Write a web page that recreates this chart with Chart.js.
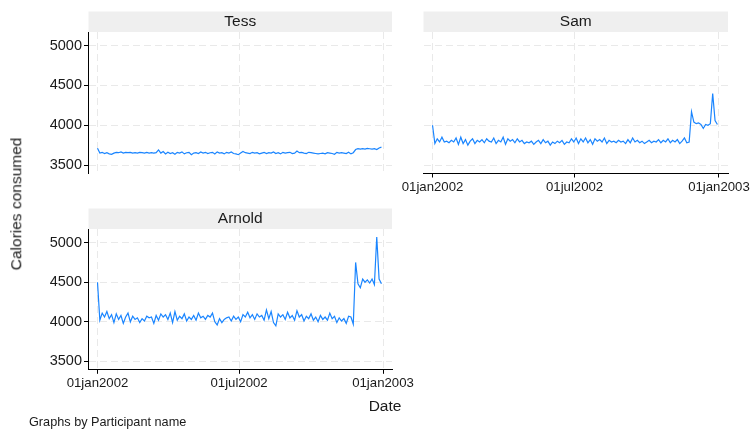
<!DOCTYPE html>
<html>
<head>
<meta charset="utf-8">
<script src="https://cdn.jsdelivr.net/npm/chart.js@4.4.1/dist/chart.umd.min.js"></script>
<style>
  body { margin: 0; background: #fff; }
  #wrap { position: relative; width: 751px; height: 429px; font-family: "Liberation Sans", Arial, sans-serif; color: #1a1a1a; }
  #wrap canvas { position: absolute; left: 0; top: 0; }
  .lbl { position: absolute; white-space: nowrap; line-height: 1; }
</style>
</head>
<body>
<div id="wrap">
  <canvas id="tess" width="751" height="429"></canvas>
  <canvas id="sam" width="751" height="429"></canvas>
  <canvas id="arnold" width="751" height="429"></canvas>
  <div class="lbl" style="left:16px; top:204px; font-size:15.5px; transform:translate(-50%,-50%) rotate(-90deg);">Calories consumed</div>
  <div class="lbl" style="left:385px; top:406px; font-size:15.5px; transform:translate(-50%,-50%);">Date</div>
  <div class="lbl" style="left:29px; top:422px; font-size:12.7px; transform:translateY(-50%);">Graphs by Participant name</div>
</div>
<script>
// days since 01jan2002, every third day
const days = [
    0,   3,   6,   9,  12,  15,  18,  21,  24,  27,
   30,  33,  36,  39,  42,  45,  48,  51,  54,  57,
   60,  63,  66,  69,  72,  75,  78,  81,  84,  87,
   90,  93,  96,  99, 102, 105, 108, 111, 114, 117,
  120, 123, 126, 129, 132, 135, 138, 141, 144, 147,
  150, 153, 156, 159, 162, 165, 168, 171, 174, 177,
  180, 183, 186, 189, 192, 195, 198, 201, 204, 207,
  210, 213, 216, 219, 222, 225, 228, 231, 234, 237,
  240, 243, 246, 249, 252, 255, 258, 261, 264, 267,
  270, 273, 276, 279, 282, 285, 288, 291, 294, 297,
  300, 303, 306, 309, 312, 315, 318, 321, 324, 327,
  330, 333, 336, 339, 342, 345, 348, 351, 354, 357,
  360, 363
];

const tessCalories = [
  3710,3650,3660,3645,3655,3640,3635,3650,3660,3655,
  3665,3650,3660,3655,3660,3650,3655,3650,3660,3655,
  3650,3660,3650,3655,3650,3655,3690,3650,3670,3640,
  3660,3645,3655,3635,3660,3650,3665,3640,3655,3660,
  3630,3650,3655,3645,3665,3650,3660,3645,3655,3660,
  3640,3665,3650,3655,3640,3660,3650,3665,3645,3640,
  3630,3650,3670,3655,3650,3645,3660,3650,3655,3640,
  3650,3660,3645,3655,3650,3665,3645,3655,3640,3660,
  3650,3655,3660,3645,3650,3675,3655,3660,3650,3645,
  3660,3655,3650,3645,3640,3645,3650,3640,3655,3650,
  3645,3635,3660,3650,3655,3650,3645,3660,3640,3655,
  3695,3705,3700,3705,3700,3710,3705,3700,3705,3695,
  3715,3725
];

const samCalories = [
  4000,3770,3830,3790,3850,3790,3800,3780,3810,3790,
  3840,3760,3850,3770,3820,3750,3800,3830,3770,3810,
  3790,3820,3780,3830,3800,3790,3840,3770,3810,3790,
  3850,3760,3830,3800,3820,3780,3830,3790,3810,3770,
  3790,3780,3800,3760,3790,3810,3770,3820,3780,3800,
  3750,3790,3770,3800,3780,3810,3760,3790,3780,3830,
  3790,3840,3770,3830,3790,3840,3780,3820,3760,3830,
  3800,3820,3790,3840,3770,3810,3790,3800,3780,3810,
  3790,3800,3770,3820,3780,3840,3790,3810,3780,3800,
  3770,3790,3810,3780,3800,3790,3820,3780,3810,3790,
  3830,3780,3810,3790,3820,3770,3800,3840,3780,3790,
  4170,4040,4020,4030,4010,3960,4010,4000,4020,4400,
  4060,4010
];

const arnoldCalories = [
  4500,4020,4110,4060,4130,4040,4090,3990,4100,4030,
  4080,3980,4060,4110,4000,4070,4030,4050,3990,4040,
  4010,4070,4050,4060,3980,4080,4020,4100,4060,4090,
  4030,4110,3990,4130,4020,4070,4040,4100,4010,4060,
  4030,4080,4020,4110,4050,4070,4030,4080,4060,4110,
  4000,3960,4040,3990,4030,4050,4060,4010,4070,4030,
  4060,4000,4090,4060,4120,4050,4090,4030,4100,4060,
  4080,4020,4150,4040,4130,3990,3950,4100,4060,4090,
  4030,4120,4050,4080,4020,4140,4060,4090,4010,4070,
  4040,4100,4020,4060,4000,4080,4030,4060,4020,4110,
  4040,4070,3990,4050,4010,4040,3980,4070,4060,3970,
  4750,4480,4430,4540,4500,4530,4490,4540,4470,5070,
  4540,4480
];

const xTickDays = [0, 181, 365];
const xTickLabels = ["01jan2002", "01jul2002", "01jan2003"];
const yTicks = [3500, 4000, 4500, 5000];

Chart.defaults.font.family = "'Liberation Sans', Arial, sans-serif";
Chart.defaults.color = "#1a1a1a";

// grey title strip above each panel
const stripPlugin = {
    id: "strip",
    beforeDraw(chart, args, opts) {
        let a = chart.chartArea;
        let ctx = chart.ctx;
        ctx.save();
        ctx.fillStyle = "#efefef";
        ctx.fillRect(a.left, a.top - 20.5, a.right - a.left, 20.5);
        ctx.fillStyle = "#1a1a1a";
        ctx.font = "15.5px 'Liberation Sans', Arial, sans-serif";
        ctx.textAlign = "center";
        ctx.textBaseline = "middle";
        ctx.fillText(opts.text, (a.left + a.right) / 2, a.top - 10);
        ctx.restore();
    }
};

function makePanel(id, name, values, box, showY, showX) {
    const YW = 60, XH = 30;
    let ctx = document.getElementById(id).getContext("2d");
    new Chart(ctx, {
        type: "line",
        data: {
            datasets: [{
                data: days.map((d, i) => ({ x: d, y: values[i] })),
                borderColor: "#1a85ff",
                borderWidth: 1.2,
                pointRadius: 0,
                tension: 0,
                fill: false
            }]
        },
        options: {
            responsive: false,
            animation: false,
            layout: {
                padding: {
                    left: box.left - YW,
                    top: box.top,
                    right: 751 - box.right,
                    bottom: 429 - box.bottom - XH
                }
            },
            plugins: {
                legend: { display: false },
                tooltip: { enabled: false },
                strip: { text: name }
            },
            scales: {
                x: {
                    type: "linear",
                    min: -11.5,
                    max: 376.5,
                    afterBuildTicks: (s) => { s.ticks = xTickDays.map(v => ({ value: v })); },
                    afterFit: (s) => { s.height = XH; s.paddingLeft = 0; s.paddingRight = 0; },
                    ticks: {
                        display: showX,
                        autoSkip: false,
                        maxRotation: 0,
                        padding: 2,
                        font: { size: 13.2 },
                        callback: (v) => xTickLabels[xTickDays.indexOf(v)]
                    },
                    grid: {
                        color: "#e9e9e9",
                        lineWidth: 1,
                        drawTicks: showX,
                        tickLength: 4.5,
                        tickColor: "#000",
                        tickWidth: 1,
                        tickBorderDash: []
                    },
                    border: { display: showX, color: "#000", width: 1, dash: [7, 4] }
                },
                y: {
                    min: 3400,
                    max: 5172,
                    afterBuildTicks: (s) => { s.ticks = yTicks.map(v => ({ value: v })); },
                    afterFit: (s) => { s.width = YW; s.paddingTop = 0; s.paddingBottom = 0; },
                    ticks: {
                        display: showY,
                        padding: 2,
                        font: { size: 14.5 },
                        callback: (v) => String(v)
                    },
                    grid: {
                        color: "#e9e9e9",
                        lineWidth: 1,
                        drawTicks: showY,
                        tickLength: 4.5,
                        tickColor: "#000",
                        tickWidth: 1,
                        tickBorderDash: []
                    },
                    border: { display: showY, color: "#000", width: 1, dash: [7, 4] }
                }
            }
        },
        plugins: [stripPlugin]
    });
}

makePanel("tess", "Tess", tessCalories, { left: 88.5, right: 392, top: 32, bottom: 173 }, true, false);
makePanel("sam", "Sam", samCalories, { left: 423.5, right: 728, top: 32, bottom: 173 }, false, true);
makePanel("arnold", "Arnold", arnoldCalories, { left: 88.5, right: 392, top: 229, bottom: 369.3 }, true, true);
</script>
</body>
</html>
